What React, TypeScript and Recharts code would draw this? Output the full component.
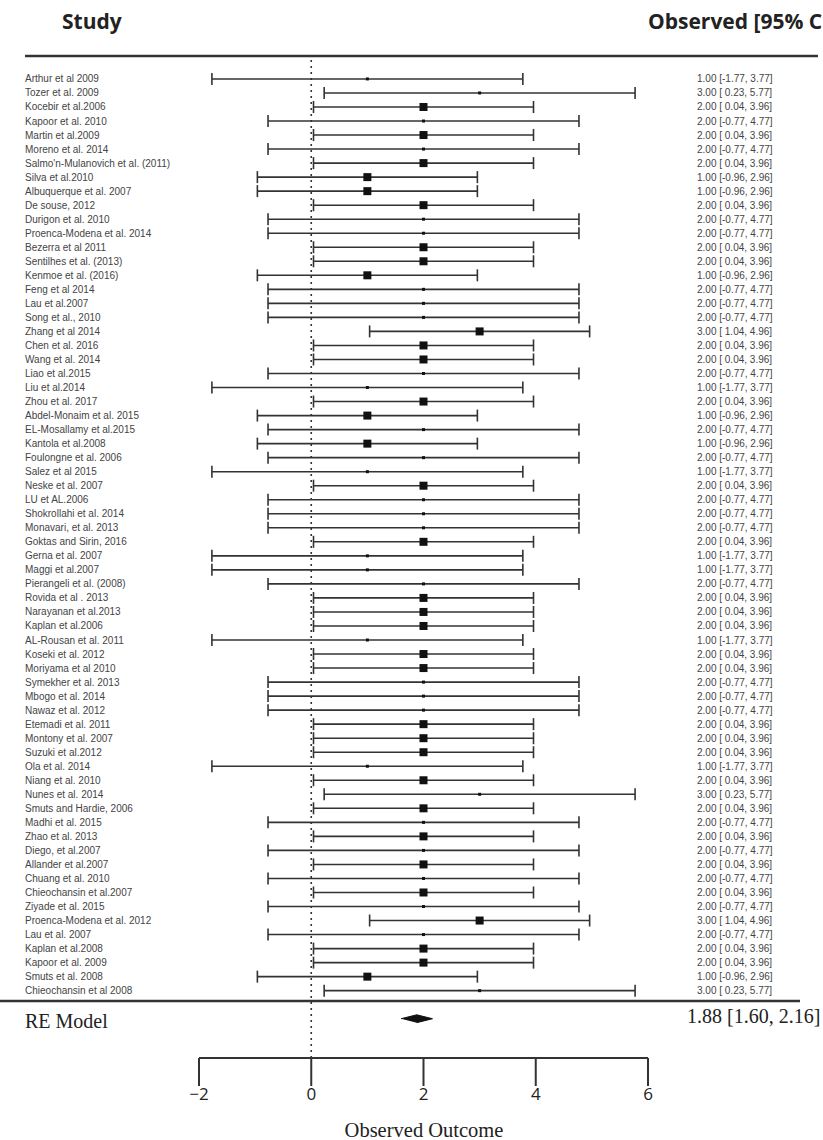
import React from "react";
import { ComposedChart, Scatter, XAxis, YAxis, ErrorBar, ReferenceLine } from "recharts";

const studies = [
  "Arthur et al 2009", "Tozer et al. 2009", "Kocebir et al.2006", "Kapoor et al. 2010", "Martin et al.2009",
  "Moreno et al. 2014", "Salmo'n-Mulanovich et al. (2011)", "Silva et al.2010", "Albuquerque et al. 2007", "De souse, 2012",
  "Durigon et al. 2010", "Proenca-Modena et al. 2014", "Bezerra et al 2011", "Sentilhes et al. (2013)", "Kenmoe et al. (2016)",
  "Feng et al 2014", "Lau et al.2007", "Song et al., 2010", "Zhang et al 2014", "Chen et al. 2016",
  "Wang et al. 2014", "Liao et al.2015", "Liu et al.2014", "Zhou et al. 2017", "Abdel-Monaim et al. 2015",
  "EL-Mosallamy et al.2015", "Kantola et al.2008", "Foulongne et al. 2006", "Salez et al 2015", "Neske et al. 2007",
  "LU et AL.2006", "Shokrollahi et al. 2014", "Monavari, et al. 2013", "Goktas and Sirin, 2016", "Gerna et al. 2007",
  "Maggi et al.2007", "Pierangeli et al. (2008)", "Rovida et al . 2013", "Narayanan et al.2013", "Kaplan et al.2006",
  "AL-Rousan et al. 2011", "Koseki et al.  2012", "Moriyama et al 2010", "Symekher et al. 2013", "Mbogo et al. 2014",
  "Nawaz et al. 2012", "Etemadi et al. 2011", "Montony et al. 2007", "Suzuki et al.2012", "Ola et al.  2014",
  "Niang et al. 2010", "Nunes et al. 2014", "Smuts and Hardie, 2006", "Madhi et al. 2015", "Zhao et al. 2013",
  "Diego, et al.2007", "Allander et al.2007", "Chuang et al. 2010", "Chieochansin et al.2007", "Ziyade et al. 2015",
  "Proenca-Modena et al. 2012", "Lau et al. 2007", "Kaplan et al.2008", "Kapoor et al.  2009", "Smuts et al. 2008",
  "Chieochansin et al 2008",
];

const estimates = [
  1, 3, 2, 2, 2, 2, 2, 1, 1, 2,
  2, 2, 2, 2, 1, 2, 2, 2, 3, 2,
  2, 2, 1, 2, 1, 2, 1, 2, 1, 2,
  2, 2, 2, 2, 1, 1, 2, 2, 2, 2,
  1, 2, 2, 2, 2, 2, 2, 2, 2, 1,
  2, 3, 2, 2, 2, 2, 2, 2, 2, 2,
  3, 2, 2, 2, 1, 3,
];

const lower = [
  -1.77, 0.23, 0.04, -0.77, 0.04, -0.77, 0.04, -0.96, -0.96, 0.04,
  -0.77, -0.77, 0.04, 0.04, -0.96, -0.77, -0.77, -0.77, 1.04, 0.04,
  0.04, -0.77, -1.77, 0.04, -0.96, -0.77, -0.96, -0.77, -1.77, 0.04,
  -0.77, -0.77, -0.77, 0.04, -1.77, -1.77, -0.77, 0.04, 0.04, 0.04,
  -1.77, 0.04, 0.04, -0.77, -0.77, -0.77, 0.04, 0.04, 0.04, -1.77,
  0.04, 0.23, 0.04, -0.77, 0.04, -0.77, 0.04, -0.77, 0.04, -0.77,
  1.04, -0.77, 0.04, 0.04, -0.96, 0.23,
];

const upper = [
  3.77, 5.77, 3.96, 4.77, 3.96, 4.77, 3.96, 2.96, 2.96, 3.96,
  4.77, 4.77, 3.96, 3.96, 2.96, 4.77, 4.77, 4.77, 4.96, 3.96,
  3.96, 4.77, 3.77, 3.96, 2.96, 4.77, 2.96, 4.77, 3.77, 3.96,
  4.77, 4.77, 4.77, 3.96, 3.77, 3.77, 4.77, 3.96, 3.96, 3.96,
  3.77, 3.96, 3.96, 4.77, 4.77, 4.77, 3.96, 3.96, 3.96, 3.77,
  3.96, 5.77, 3.96, 4.77, 3.96, 4.77, 3.96, 4.77, 3.96, 4.77,
  4.96, 4.77, 3.96, 3.96, 2.96, 5.77,
];

const summaryName = "RE Model";
const summaryEst = 1.88;
const summaryLower = 1.6;
const summaryUpper = 2.16;
const summaryRow = 68;

const xTicks = [-2, 0, 2, 4, 6];

const fmt = (v: number) => (v < 0 ? v.toFixed(2) : " " + v.toFixed(2));

const rows = studies.map((name, i) => ({
  row: i + 1,
  name,
  est: estimates[i],
  lo: lower[i],
  hi: upper[i],
  err: [estimates[i] - lower[i], upper[i] - estimates[i]],
  text: `${estimates[i].toFixed(2)} [${fmt(lower[i])}, ${upper[i].toFixed(2)}]`,
}));

const summaryText = `${summaryEst.toFixed(2)} [${summaryLower.toFixed(2)}, ${summaryUpper.toFixed(2)}]`;

const diamond = [
  { est: summaryLower, row: summaryRow },
  { est: summaryEst, row: summaryRow - 0.28 },
  { est: summaryUpper, row: summaryRow },
  { est: summaryEst, row: summaryRow + 0.28 },
];

const yTicks = [...rows.map((r) => r.row), summaryRow];
const byRow: Record<number, (typeof rows)[number]> = {};
rows.forEach((r) => (byRow[r.row] = r));

const W = 823;
const H = 1140;

const LeftTick = (props: any) => {
  const { y, payload } = props;
  if (payload.value === summaryRow) {
    return (
      <text x={25} y={y} dy={9} fontFamily="Liberation Serif" fontSize={20} fill="#222">
        {summaryName}
      </text>
    );
  }
  const r = byRow[payload.value];
  if (!r) return null;
  return (
    <text x={25} y={y} dy={3.5} fontFamily="Liberation Sans, Arial" fontSize={10} fill="#444">
      {r.name}
    </text>
  );
};

const RightTick = (props: any) => {
  const { y, payload } = props;
  if (payload.value === summaryRow) {
    return (
      <text x={687} y={y} dy={4} fontFamily="Liberation Serif" fontSize={20} fill="#222">
        {summaryText}
      </text>
    );
  }
  const r = byRow[payload.value];
  if (!r) return null;
  return (
    <text x={697} y={y} dy={3.5} fontFamily="Liberation Sans, Arial" fontSize={10} fill="#444" style={{ whiteSpace: "pre" }}>
      {r.text}
    </text>
  );
};

const StudySquare = (props: any) => {
  const { cx, cy, payload } = props;
  const s = payload.hi - payload.lo < 4.5 ? 8 : 3;
  return <rect x={cx - s / 2} y={cy - s / 2} width={s} height={s} fill="#111" />;
};

export default function App() {
  return (
    <div style={{ position: "absolute", left: 0, top: 0, width: W, height: H, background: "#fff", overflow: "hidden" }}>
      <ComposedChart width={W} height={H} margin={{ top: 60, right: 0, bottom: 0, left: 0 }}>
        <XAxis
          type="number"
          dataKey="est"
          domain={[-2, 6]}
          ticks={xTicks}
          tickSize={28}
          tickFormatter={(v: number) => (v < 0 ? `\u2212${-v}` : `${v}`)}
          height={82}
          stroke="#333"
          strokeWidth={2}
          tick={{ fontFamily: "Open Sans", fontSize: 17, fill: "#222" }}
          allowDataOverflow
        />
        <YAxis
          yAxisId="left"
          type="number"
          dataKey="row"
          domain={[-0.35, 70.8]}
          reversed
          ticks={yTicks}
          interval={0}
          width={199}
          axisLine={false}
          tickLine={false}
          tick={<LeftTick />}
          allowDataOverflow
        />
        <YAxis
          yAxisId="right"
          orientation="right"
          type="number"
          dataKey="row"
          domain={[-0.35, 70.8]}
          reversed
          ticks={yTicks}
          interval={0}
          width={175}
          axisLine={false}
          tickLine={false}
          tick={<RightTick />}
          allowDataOverflow
        />
        <ReferenceLine yAxisId="left" x={0} stroke="#333" strokeWidth={1.6} strokeDasharray="2 4" />
        <Scatter yAxisId="left" data={rows} shape={<StudySquare />} isAnimationActive={false}>
          <ErrorBar dataKey="err" direction="x" width={6} stroke="#333" strokeWidth={1.6} isAnimationActive={false} />
        </Scatter>
        <Scatter yAxisId="right" data={rows} shape={() => <g />} isAnimationActive={false} />
        <Scatter
          yAxisId="left"
          data={diamond}
          shape={() => <g />}
          line={{ fill: "#111", stroke: "#111", strokeWidth: 1 }}
          lineType="joint"
          isAnimationActive={false}
        />
      </ComposedChart>
      <svg width={W} height={H} style={{ position: "absolute", left: 0, top: 0, pointerEvents: "none" }}>
        <text x={62} y={29} fontFamily="Open Sans" fontWeight={700} fontSize={21} fill="#222">
          Study
        </text>
        <text x={648} y={29} fontFamily="Open Sans" fontWeight={700} fontSize={21} fill="#222">
          Observed [95% CI]
        </text>
        <line x1={25} x2={818} y1={56} y2={56} stroke="#333" strokeWidth={2.5} />
        <line x1={0} x2={800} y1={1001} y2={1001} stroke="#333" strokeWidth={2.5} />
        <text x={424} y={1137} textAnchor="middle" fontFamily="Liberation Serif" fontSize={20.5} fill="#222">
          Observed Outcome
        </text>
      </svg>
    </div>
  );
}
